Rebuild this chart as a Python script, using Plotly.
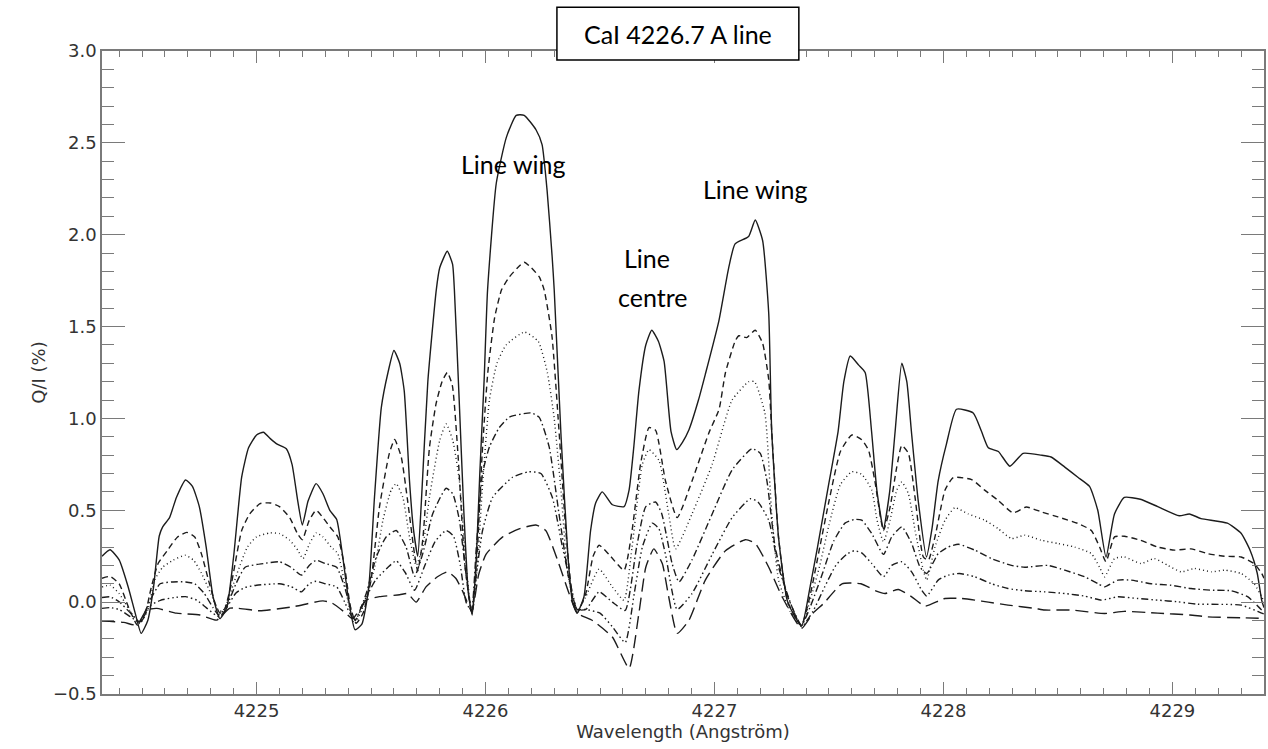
import plotly.graph_objects as go

# ---------------- data ----------------
solid_x = [4224.325, 4224.36, 4224.40, 4224.44, 4224.47, 4224.496, 4224.525, 4224.55, 4224.575, 4224.59, 4224.62, 4224.65, 4224.69, 4224.72, 4224.75, 4224.78, 4224.81, 4224.84, 4224.87, 4224.90, 4224.935, 4224.965, 4225.0, 4225.03, 4225.06, 4225.09, 4225.13, 4225.155, 4225.18, 4225.20, 4225.225, 4225.26, 4225.29, 4225.32, 4225.35, 4225.375, 4225.40, 4225.43, 4225.46, 4225.49, 4225.515, 4225.545, 4225.574, 4225.60, 4225.625, 4225.645, 4225.668, 4225.685, 4225.704, 4225.72, 4225.748, 4225.785, 4225.80, 4225.833, 4225.856, 4225.864, 4225.885, 4225.905, 4225.925, 4225.942, 4225.96, 4225.975, 4225.994, 4226.009, 4226.047, 4226.091, 4226.134, 4226.169, 4226.221, 4226.247, 4226.269, 4226.291, 4226.30, 4226.33, 4226.36, 4226.38, 4226.40, 4226.43, 4226.459, 4226.481, 4226.51, 4226.554, 4226.605, 4226.627, 4226.648, 4226.67, 4226.70, 4226.726, 4226.755, 4226.78, 4226.81, 4226.835, 4226.86, 4226.889, 4226.93, 4226.96, 4227.019, 4227.062, 4227.09, 4227.149, 4227.178, 4227.21, 4227.237, 4227.25, 4227.28, 4227.32, 4227.38, 4227.42, 4227.45, 4227.50, 4227.54, 4227.565, 4227.593, 4227.63, 4227.658, 4227.686, 4227.71, 4227.738, 4227.765, 4227.789, 4227.818, 4227.84, 4227.86, 4227.89, 4227.926, 4227.95, 4227.977, 4228.013, 4228.057, 4228.13, 4228.166, 4228.196, 4228.24, 4228.29, 4228.348, 4228.427, 4228.47, 4228.53, 4228.587, 4228.638, 4228.674, 4228.71, 4228.747, 4228.79, 4228.86, 4228.936, 4229.03, 4229.074, 4229.125, 4229.24, 4229.30, 4229.34, 4229.37, 4229.39, 4229.40]
solid_y = [0.25, 0.285, 0.23, 0.08, -0.06, -0.17, -0.10, 0.08, 0.36, 0.41, 0.46, 0.57, 0.665, 0.63, 0.52, 0.30, 0.03, -0.09, -0.03, 0.25, 0.68, 0.84, 0.91, 0.925, 0.89, 0.86, 0.835, 0.75, 0.55, 0.42, 0.55, 0.645, 0.59, 0.50, 0.45, 0.26, 0.03, -0.15, -0.12, 0.08, 0.57, 1.06, 1.25, 1.37, 1.30, 1.15, 0.66, 0.40, 0.25, 0.55, 1.20, 1.70, 1.82, 1.91, 1.84, 1.70, 1.10, 0.50, 0.05, -0.07, 0.25, 0.70, 1.21, 1.70, 2.28, 2.53, 2.65, 2.65, 2.57, 2.49, 2.24, 1.88, 1.70, 0.90, 0.25, 0.0, -0.06, 0.03, 0.39, 0.54, 0.60, 0.53, 0.52, 0.61, 0.85, 1.15, 1.40, 1.48, 1.42, 1.31, 0.93, 0.83, 0.87, 0.94, 1.10, 1.24, 1.53, 1.82, 1.95, 1.99, 2.08, 1.97, 1.57, 0.93, 0.35, 0.0, -0.13, 0.10, 0.30, 0.65, 0.93, 1.20, 1.34, 1.29, 1.25, 0.93, 0.60, 0.40, 0.60, 0.93, 1.30, 1.20, 0.93, 0.55, 0.246, 0.40, 0.66, 0.86, 1.05, 1.03, 0.93, 0.84, 0.82, 0.74, 0.81, 0.80, 0.79, 0.735, 0.68, 0.63, 0.50, 0.245, 0.48, 0.57, 0.56, 0.52, 0.47, 0.48, 0.455, 0.43, 0.375, 0.28, 0.16, 0.01, -0.03]

dashed_x = [4224.325, 4224.36, 4224.40, 4224.44, 4224.48, 4224.51, 4224.54, 4224.57, 4224.61, 4224.655, 4224.695, 4224.73, 4224.76, 4224.79, 4224.82, 4224.84, 4224.86, 4224.89, 4224.935, 4224.97, 4225.015, 4225.06, 4225.10, 4225.145, 4225.18, 4225.20, 4225.23, 4225.26, 4225.29, 4225.32, 4225.355, 4225.385, 4225.41, 4225.435, 4225.465, 4225.50, 4225.537, 4225.58, 4225.603, 4225.632, 4225.66, 4225.69, 4225.704, 4225.726, 4225.755, 4225.784, 4225.81, 4225.833, 4225.855, 4225.88, 4225.91, 4225.94, 4225.965, 4225.985, 4226.01, 4226.04, 4226.07, 4226.104, 4226.14, 4226.169, 4226.20, 4226.235, 4226.256, 4226.29, 4226.32, 4226.35, 4226.38, 4226.40, 4226.438, 4226.47, 4226.496, 4226.539, 4226.605, 4226.64, 4226.677, 4226.714, 4226.743, 4226.786, 4226.837, 4226.902, 4226.975, 4227.02, 4227.048, 4227.09, 4227.106, 4227.14, 4227.178, 4227.21, 4227.237, 4227.25, 4227.28, 4227.32, 4227.38, 4227.42, 4227.46, 4227.50, 4227.55, 4227.60, 4227.643, 4227.673, 4227.70, 4227.738, 4227.767, 4227.796, 4227.818, 4227.847, 4227.876, 4227.912, 4227.934, 4227.963, 4228.007, 4228.043, 4228.123, 4228.18, 4228.239, 4228.304, 4228.362, 4228.43, 4228.50, 4228.588, 4228.646, 4228.682, 4228.71, 4228.747, 4228.79, 4228.86, 4228.936, 4229.009, 4229.081, 4229.154, 4229.227, 4229.30, 4229.357, 4229.39, 4229.40]
dashed_y = [0.13, 0.14, 0.10, -0.025, -0.125, -0.08, 0.08, 0.21, 0.28, 0.355, 0.38, 0.355, 0.26, 0.12, -0.01, -0.06, -0.04, 0.10, 0.39, 0.48, 0.536, 0.54, 0.52, 0.46, 0.37, 0.34, 0.445, 0.50, 0.46, 0.41, 0.355, 0.19, -0.025, -0.115, -0.06, 0.12, 0.52, 0.81, 0.885, 0.79, 0.55, 0.26, 0.17, 0.34, 0.84, 1.08, 1.20, 1.25, 1.18, 0.80, 0.20, -0.06, 0.30, 0.80, 1.25, 1.55, 1.70, 1.77, 1.82, 1.85, 1.82, 1.77, 1.70, 1.45, 0.95, 0.40, 0.02, -0.06, 0.047, 0.25, 0.31, 0.26, 0.174, 0.39, 0.75, 0.95, 0.935, 0.66, 0.46, 0.66, 0.92, 1.05, 1.25, 1.42, 1.45, 1.44, 1.48, 1.41, 1.21, 0.93, 0.35, 0.0, -0.125, 0.05, 0.30, 0.55, 0.82, 0.91, 0.884, 0.826, 0.663, 0.39, 0.518, 0.735, 0.853, 0.81, 0.57, 0.246, 0.228, 0.355, 0.61, 0.678, 0.667, 0.61, 0.554, 0.486, 0.518, 0.49, 0.464, 0.428, 0.39, 0.30, 0.22, 0.355, 0.359, 0.337, 0.30, 0.283, 0.29, 0.264, 0.25, 0.246, 0.21, 0.156, 0.13]

dotted_x = [4224.325, 4224.36, 4224.40, 4224.445, 4224.49, 4224.525, 4224.555, 4224.59, 4224.635, 4224.688, 4224.725, 4224.76, 4224.80, 4224.833, 4224.85, 4224.87, 4224.915, 4224.96, 4225.0, 4225.058, 4225.10, 4225.145, 4225.18, 4225.203, 4225.232, 4225.261, 4225.29, 4225.326, 4225.355, 4225.385, 4225.41, 4225.428, 4225.46, 4225.516, 4225.552, 4225.588, 4225.61, 4225.639, 4225.668, 4225.697, 4225.726, 4225.755, 4225.80, 4225.828, 4225.857, 4225.886, 4225.915, 4225.94, 4225.965, 4225.985, 4226.017, 4226.05, 4226.09, 4226.17, 4226.23, 4226.27, 4226.30, 4226.33, 4226.36, 4226.40, 4226.438, 4226.496, 4226.554, 4226.605, 4226.64, 4226.685, 4226.714, 4226.758, 4226.80, 4226.83, 4226.902, 4226.99, 4227.077, 4227.15, 4227.175, 4227.22, 4227.25, 4227.28, 4227.33, 4227.38, 4227.42, 4227.46, 4227.50, 4227.55, 4227.60, 4227.643, 4227.687, 4227.71, 4227.738, 4227.767, 4227.796, 4227.818, 4227.847, 4227.876, 4227.912, 4227.927, 4227.963, 4228.007, 4228.05, 4228.108, 4228.18, 4228.239, 4228.297, 4228.355, 4228.427, 4228.50, 4228.573, 4228.646, 4228.682, 4228.704, 4228.747, 4228.79, 4228.863, 4228.92, 4228.98, 4229.038, 4229.096, 4229.17, 4229.227, 4229.30, 4229.357, 4229.39, 4229.40]
dotted_y = [0.083, 0.092, 0.047, -0.043, -0.116, -0.043, 0.12, 0.19, 0.228, 0.255, 0.228, 0.156, 0.047, -0.043, -0.05, -0.007, 0.156, 0.30, 0.355, 0.377, 0.373, 0.337, 0.283, 0.237, 0.32, 0.377, 0.355, 0.30, 0.264, 0.10, -0.06, -0.116, -0.04, 0.19, 0.446, 0.61, 0.645, 0.57, 0.355, 0.20, 0.30, 0.57, 0.88, 0.97, 0.88, 0.66, 0.20, -0.06, 0.20, 0.60, 1.10, 1.30, 1.40, 1.47, 1.42, 1.25, 1.0, 0.60, 0.15, -0.05, 0.03, 0.18, 0.083, 0.01, 0.30, 0.75, 0.83, 0.77, 0.48, 0.29, 0.48, 0.75, 1.10, 1.20, 1.20, 1.03, 0.48, 0.12, -0.05, -0.13, 0.02, 0.20, 0.42, 0.64, 0.71, 0.696, 0.61, 0.446, 0.328, 0.446, 0.61, 0.654, 0.59, 0.39, 0.174, 0.12, 0.30, 0.446, 0.514, 0.48, 0.446, 0.40, 0.346, 0.364, 0.337, 0.319, 0.30, 0.264, 0.19, 0.138, 0.237, 0.246, 0.21, 0.237, 0.20, 0.165, 0.183, 0.165, 0.174, 0.156, 0.10, 0.03, 0.0]

dashdot_x = [4224.325, 4224.36, 4224.40, 4224.45, 4224.49, 4224.535, 4224.579, 4224.635, 4224.69, 4224.73, 4224.77, 4224.81, 4224.835, 4224.87, 4224.91, 4224.95, 4225.03, 4225.10, 4225.15, 4225.196, 4225.23, 4225.26, 4225.30, 4225.35, 4225.385, 4225.41, 4225.43, 4225.479, 4225.523, 4225.566, 4225.61, 4225.653, 4225.69, 4225.726, 4225.769, 4225.828, 4225.857, 4225.886, 4225.915, 4225.94, 4225.96, 4225.987, 4226.017, 4226.06, 4226.104, 4226.198, 4226.234, 4226.278, 4226.321, 4226.365, 4226.40, 4226.438, 4226.496, 4226.554, 4226.61, 4226.66, 4226.70, 4226.743, 4226.77, 4226.815, 4226.845, 4226.902, 4226.99, 4227.077, 4227.164, 4227.20, 4227.229, 4227.265, 4227.32, 4227.38, 4227.42, 4227.47, 4227.52, 4227.57, 4227.61, 4227.643, 4227.687, 4227.738, 4227.774, 4227.818, 4227.861, 4227.898, 4227.927, 4227.977, 4228.021, 4228.065, 4228.137, 4228.21, 4228.297, 4228.355, 4228.457, 4228.53, 4228.617, 4228.675, 4228.704, 4228.762, 4228.82, 4228.907, 4228.994, 4229.081, 4229.17, 4229.256, 4229.33, 4229.39, 4229.40]
dashdot_y = [0.025, 0.029, 0.002, -0.06, -0.107, 0.011, 0.10, 0.11, 0.11, 0.10, 0.05, -0.03, -0.07, -0.02, 0.10, 0.19, 0.21, 0.22, 0.19, 0.147, 0.20, 0.228, 0.21, 0.19, 0.08, -0.03, -0.10, 0.047, 0.246, 0.355, 0.39, 0.30, 0.14, 0.264, 0.48, 0.62, 0.59, 0.446, 0.15, -0.05, 0.30, 0.70, 0.845, 0.95, 1.007, 1.03, 1.007, 0.845, 0.48, 0.12, -0.04, -0.04, 0.056, 0.0, -0.045, 0.30, 0.52, 0.545, 0.48, 0.21, 0.11, 0.23, 0.48, 0.72, 0.835, 0.81, 0.66, 0.30, 0.03, -0.125, -0.02, 0.15, 0.33, 0.43, 0.45, 0.446, 0.373, 0.26, 0.355, 0.41, 0.32, 0.19, 0.156, 0.264, 0.30, 0.315, 0.283, 0.237, 0.20, 0.19, 0.20, 0.174, 0.138, 0.10, 0.083, 0.12, 0.12, 0.10, 0.092, 0.074, 0.065, 0.062, 0.029, -0.043, -0.05]

dashdotdot_x = [4224.325, 4224.36, 4224.40, 4224.45, 4224.49, 4224.535, 4224.58, 4224.64, 4224.69, 4224.74, 4224.78, 4224.82, 4224.84, 4224.87, 4224.91, 4224.95, 4225.0, 4225.10, 4225.15, 4225.196, 4225.23, 4225.26, 4225.30, 4225.35, 4225.385, 4225.407, 4225.43, 4225.48, 4225.52, 4225.574, 4225.61, 4225.65, 4225.69, 4225.735, 4225.78, 4225.828, 4225.86, 4225.89, 4225.915, 4225.94, 4225.96, 4225.987, 4226.031, 4226.118, 4226.19, 4226.242, 4226.292, 4226.336, 4226.38, 4226.40, 4226.438, 4226.50, 4226.554, 4226.61, 4226.65, 4226.685, 4226.728, 4226.757, 4226.786, 4226.837, 4226.902, 4226.99, 4227.077, 4227.157, 4227.19, 4227.237, 4227.28, 4227.338, 4227.38, 4227.43, 4227.48, 4227.53, 4227.577, 4227.61, 4227.643, 4227.687, 4227.738, 4227.774, 4227.818, 4227.861, 4227.905, 4227.927, 4227.977, 4228.021, 4228.07, 4228.137, 4228.21, 4228.282, 4228.355, 4228.442, 4228.53, 4228.617, 4228.69, 4228.762, 4228.849, 4228.936, 4229.023, 4229.11, 4229.30, 4229.39, 4229.40]
dashdotdot_y = [-0.034, -0.03, -0.04, -0.08, -0.11, -0.02, 0.01, 0.025, 0.03, 0.01, -0.03, -0.07, -0.08, -0.03, 0.05, 0.08, 0.092, 0.10, 0.085, 0.056, 0.10, 0.114, 0.10, 0.083, 0.0, -0.06, -0.10, 0.03, 0.12, 0.19, 0.225, 0.16, 0.065, 0.20, 0.33, 0.39, 0.36, 0.20, 0.0, -0.05, 0.15, 0.39, 0.57, 0.68, 0.71, 0.70, 0.57, 0.30, 0.05, -0.04, -0.04, -0.06, -0.134, -0.22, 0.05, 0.30, 0.43, 0.40, 0.26, -0.04, 0.047, 0.26, 0.46, 0.563, 0.545, 0.445, 0.19, -0.025, -0.134, -0.05, 0.08, 0.20, 0.26, 0.28, 0.268, 0.21, 0.138, 0.20, 0.22, 0.165, 0.065, 0.033, 0.12, 0.147, 0.156, 0.138, 0.10, 0.074, 0.062, 0.056, 0.047, 0.033, 0.011, 0.029, 0.02, 0.011, 0.002, -0.011, -0.016, -0.06, -0.065]

longdash_x = [4224.325, 4224.42, 4224.477, 4224.52, 4224.564, 4224.65, 4224.753, 4224.826, 4224.884, 4225.014, 4225.16, 4225.29, 4225.33, 4225.39, 4225.42, 4225.479, 4225.537, 4225.625, 4225.66, 4225.697, 4225.74, 4225.79, 4225.835, 4225.87, 4225.90, 4225.94, 4225.97, 4226.002, 4226.075, 4226.15, 4226.22, 4226.263, 4226.32, 4226.365, 4226.40, 4226.467, 4226.554, 4226.627, 4226.67, 4226.70, 4226.735, 4226.772, 4226.80, 4226.837, 4226.888, 4226.96, 4227.048, 4227.135, 4227.178, 4227.237, 4227.295, 4227.38, 4227.43, 4227.477, 4227.557, 4227.64, 4227.707, 4227.745, 4227.803, 4227.86, 4227.92, 4228.006, 4228.077, 4228.137, 4228.196, 4228.282, 4228.40, 4228.442, 4228.56, 4228.704, 4228.79, 4228.936, 4229.076, 4229.154, 4229.30, 4229.40]
longdash_y = [-0.103, -0.11, -0.125, -0.043, -0.034, -0.06, -0.07, -0.098, -0.033, -0.047, -0.025, 0.007, -0.005, -0.06, -0.09, 0.011, 0.03, 0.04, 0.047, 0.0, 0.083, 0.138, 0.165, 0.13, 0.06, -0.05, 0.15, 0.26, 0.355, 0.40, 0.42, 0.39, 0.21, 0.047, -0.06, -0.10, -0.19, -0.36, -0.06, 0.19, 0.29, 0.21, 0.03, -0.17, -0.10, 0.12, 0.28, 0.34, 0.32, 0.19, 0.03, -0.143, -0.06, -0.007, 0.10, 0.10, 0.06, 0.047, 0.069, 0.03, -0.022, 0.02, 0.02, 0.011, 0.0, -0.016, -0.034, -0.043, -0.043, -0.062, -0.05, -0.06, -0.07, -0.08, -0.085, -0.088]

y_ticks = [-0.5, 0.0, 0.5, 1.0, 1.5, 2.0, 2.5, 3.0]
x_ticks = [4225, 4226, 4227, 4228, 4229]

title_text = "CaI 4226.7 A line"
x_title = "Wavelength (Angström)"
y_title = "Q/I (%)"

# ---------------- figure ----------------
fig = go.Figure()
styles = [
    (solid_x, solid_y, "solid"),
    (dashed_x, dashed_y, "6px,4px"),
    (dotted_x, dotted_y, "1px,3px"),
    (dashdot_x, dashdot_y, "7px,3px,1.5px,3px"),
    (dashdotdot_x, dashdotdot_y, "7px,3px,1.5px,3px,1.5px,3px,1.5px,3px"),
    (longdash_x, longdash_y, "13px,6px"),
]
for xs, ys, dash in styles:
    fig.add_trace(go.Scatter(
        x=xs, y=ys, mode="lines",
        line=dict(color="#1c1c1c", width=1.4, dash=dash, shape="spline", smoothing=0.5),
        showlegend=False, hoverinfo="skip", cliponaxis=True))

axis_grey = "#7a7a7a"
tickfont = dict(family="DejaVu Sans", size=18, color="#333333")
fig.update_xaxes(
    range=[4224.325, 4229.40], tickvals=x_ticks, ticktext=[str(v) for v in x_ticks],
    ticks="inside", ticklen=12, tickwidth=1.2, tickcolor=axis_grey,
    showline=True, linecolor=axis_grey, linewidth=1.5, mirror="allticks",
    showgrid=False, zeroline=False, tickfont=tickfont,
    minor=dict(dtick=0.1, tick0=4225, ticks="inside", ticklen=6, tickwidth=1.2, tickcolor=axis_grey, showgrid=False),
    title=dict(text=x_title, font=dict(family="DejaVu Sans", size=18, color="#333333"), standoff=4),
)
fig.update_yaxes(
    range=[-0.5, 3.0], tickvals=y_ticks, tickformat=".1f",
    ticks="inside", ticklen=23, tickwidth=1.2, tickcolor=axis_grey,
    showline=True, linecolor=axis_grey, linewidth=1.5, mirror="allticks",
    showgrid=False, zeroline=False, tickfont=tickfont,
    minor=dict(dtick=0.1, tick0=0, ticks="inside", ticklen=12, tickwidth=1.2, tickcolor=axis_grey, showgrid=False),
    title=dict(text=y_title, font=dict(family="DejaVu Sans", size=18, color="#333333"), standoff=3),
)

# title box
fig.add_shape(type="rect", xref="paper", yref="paper", x0=0.3915, x1=0.5997, y0=0.986, y1=1.068,
              line=dict(color="black", width=1.5), fillcolor="white", layer="above")
ann_font = dict(family="Lato", size=25, color="black")
fig.add_annotation(xref="paper", yref="paper", x=(0.3915 + 0.5997) / 2, y=1.027, text=title_text,
                   showarrow=False, font=ann_font, xanchor="center", yanchor="middle")
fig.add_annotation(x=4226.121, y=2.386, text="Line wing", showarrow=False, font=ann_font)
fig.add_annotation(x=4227.176, y=2.25, text="Line wing", showarrow=False, font=ann_font)
fig.add_annotation(x=4226.705, y=1.875, text="Line", showarrow=False, font=ann_font)
fig.add_annotation(x=4226.731, y=1.663, text="centre", showarrow=False, font=ann_font)

fig.update_layout(
    width=1268, height=749,
    margin=dict(l=102, r=2, t=51, b=55),
    paper_bgcolor="white", plot_bgcolor="white",
)
fig.write_html("out.html")
